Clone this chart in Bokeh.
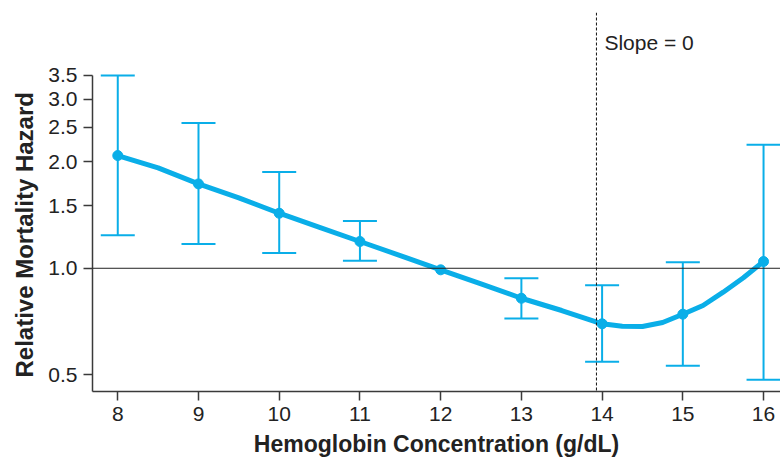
from bokeh.plotting import figure
from bokeh.models import (Range1d, FixedTicker, NumeralTickFormatter, Whisker, TeeHead,
                          ColumnDataSource, Span, Label, Title)
from bokeh.embed import file_html
from bokeh.resources import INLINE

# ---- data ----
hb = [8, 9, 10, 11, 12, 13, 14, 15, 16]
hazard = [2.08, 1.73, 1.43, 1.19, 0.99, 0.823, 0.697, 0.742, 1.045]
ci_upper = [3.50, 2.57, 1.87, 1.36, None, 0.937, 0.895, 1.04, 2.23]
ci_lower = [1.24, 1.17, 1.105, 1.05, None, 0.722, 0.545, 0.531, 0.485]

curve_hb = [8.0, 8.5, 9.0, 9.5, 10.0, 10.5, 11.0, 11.5, 12.0, 12.5, 13.0, 13.5,
            14.0, 14.25, 14.5, 14.75, 15.0, 15.25, 15.5, 15.75, 16.0]
curve_hazard = [2.08, 1.92, 1.73, 1.58, 1.43, 1.305, 1.19, 1.086, 0.99, 0.904, 0.823, 0.76,
                0.697, 0.686, 0.685, 0.703, 0.742, 0.785, 0.856, 0.94, 1.045]

x_ticks = [8, 9, 10, 11, 12, 13, 14, 15, 16]
y_ticks = [0.5, 1.0, 1.5, 2.0, 2.5, 3.0, 3.5]
slope_zero_hb = 13.93
slope_label = "Slope = 0"
x_title = "Hemoglobin Concentration (g/dL)"
y_title = "Relative Mortality Hazard"

BLUE = "#0AAEE8"
FONT = "Liberation Sans"
INK = "#222222"

p = figure(width=780, height=459, output_backend="svg", toolbar_location=None,
           y_axis_type="log",
           x_range=Range1d(7.687, 16.21), y_range=Range1d(0.449, 5.27),
           min_border_left=91, min_border_right=0, min_border_top=12, min_border_bottom=68)
p.outline_line_color = None
p.xgrid.grid_line_color = None
p.ygrid.grid_line_color = None
p.background_fill_color = "white"
p.border_fill_color = "white"

# reference lines
p.add_layout(Span(location=1.0, dimension="width", line_color="#222222", line_width=1))
p.add_layout(Span(location=slope_zero_hb, dimension="height", line_color="#111111",
                  line_width=1, line_dash="3 2"))
p.add_layout(Label(x=slope_zero_hb, y=4.33, x_offset=8, text=slope_label,
                   text_font=FONT, text_font_size="21px", text_color=INK,
                   text_baseline="middle"))

# error bars
eb_x = [x for x, u in zip(hb, ci_upper) if u is not None]
eb_u = [u for u in ci_upper if u is not None]
eb_l = [l for l in ci_lower if l is not None]
src = ColumnDataSource(dict(base=eb_x, upper=eb_u, lower=eb_l))
w = Whisker(source=src, base="base", upper="upper", lower="lower", dimension="height",
            line_color=BLUE, line_width=2,
            upper_head=TeeHead(size=34, line_color=BLUE, line_width=2),
            lower_head=TeeHead(size=34, line_color=BLUE, line_width=2))
p.add_layout(w)

# curve and points
p.line(curve_hb, curve_hazard, line_color=BLUE, line_width=5, line_join="round", line_cap="round")
p.scatter(hb, hazard, size=10, fill_color=BLUE, line_color=BLUE)

# axes
for ax in (p.xaxis[0], p.yaxis[0]):
    ax.axis_line_color = "#3a3a3a"
    ax.axis_line_width = 1.5
    ax.major_tick_line_color = "#3a3a3a"
    ax.major_tick_line_width = 1.5
    ax.major_tick_out = 9
    ax.major_tick_in = 0
    ax.minor_tick_line_color = None
    ax.major_label_text_font = FONT
    ax.major_label_text_font_size = "21px"
    ax.major_label_text_color = INK

p.xaxis.ticker = FixedTicker(ticks=x_ticks)
p.xaxis.major_label_standoff = 6
p.xaxis.axis_label = x_title
p.xaxis.axis_label_text_font = FONT
p.xaxis.axis_label_text_font_size = "23px"
p.xaxis.axis_label_text_font_style = "bold"
p.xaxis.axis_label_text_color = INK
p.xaxis.axis_label_standoff = 7

p.yaxis.ticker = FixedTicker(ticks=y_ticks)
p.yaxis.formatter = NumeralTickFormatter(format="0.0")
p.yaxis.major_label_standoff = 6
p.yaxis.bounds = (0.449, 3.5)

# y title placed along the span of the axis line, as in the reference
p.add_layout(Title(text=y_title, align="left", offset=14, standoff=16,
                   text_font=FONT, text_font_size="24px", text_font_style="bold",
                   text_color=INK), "left")

open("out.html", "w").write(file_html(p, INLINE))
